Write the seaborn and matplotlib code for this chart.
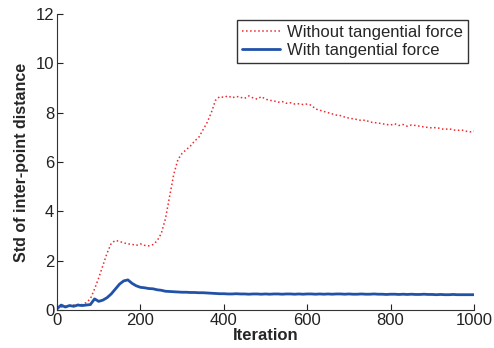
import numpy as np
import pandas as pd
import matplotlib
matplotlib.use("Agg")
import matplotlib.pyplot as plt
import seaborn as sns

# iterations sampled every 10 steps
iterations = list(range(0, 1001, 10))

# Std of inter-point distance
without_tangential = [
    0.10, 0.12, 0.15, 0.18, 0.20, 0.22, 0.22, 0.30, 0.45, 0.85,
    1.30, 1.80, 2.30, 2.70, 2.82, 2.78, 2.72, 2.68, 2.66, 2.62,
    2.68, 2.62, 2.60, 2.65, 2.80, 3.10, 3.70, 4.60, 5.50, 6.10,
    6.35, 6.50, 6.65, 6.85, 7.00, 7.30, 7.60, 8.00, 8.50, 8.65,
    8.62, 8.68, 8.60, 8.66, 8.62, 8.58, 8.68, 8.60, 8.55, 8.65,
    8.55, 8.50, 8.48, 8.42, 8.45, 8.38, 8.40, 8.35, 8.36, 8.33,
    8.35, 8.30, 8.15, 8.10, 8.05, 8.00, 7.95, 7.90, 7.88, 7.82,
    7.78, 7.75, 7.72, 7.68, 7.70, 7.62, 7.60, 7.58, 7.55, 7.52,
    7.50, 7.55, 7.48, 7.52, 7.45, 7.50, 7.48, 7.45, 7.42, 7.40,
    7.38, 7.40, 7.35, 7.32, 7.35, 7.30, 7.28, 7.30, 7.25, 7.22,
    7.25,
]
with_tangential = [
    0.05, 0.20, 0.12, 0.18, 0.15, 0.20, 0.18, 0.20, 0.22, 0.45,
    0.35, 0.40, 0.50, 0.65, 0.85, 1.05, 1.18, 1.22, 1.08, 0.98,
    0.92, 0.90, 0.87, 0.86, 0.82, 0.80, 0.76, 0.75, 0.74, 0.73,
    0.72, 0.72, 0.71, 0.71, 0.70, 0.70, 0.69, 0.68, 0.67, 0.66,
    0.66, 0.65, 0.65, 0.66, 0.65, 0.65, 0.64, 0.65, 0.65, 0.64,
    0.65, 0.64, 0.65, 0.65, 0.64, 0.65, 0.65, 0.64, 0.65, 0.64,
    0.65, 0.65, 0.64, 0.65, 0.64, 0.65, 0.64, 0.65, 0.65, 0.64,
    0.65, 0.64, 0.64, 0.65, 0.64, 0.64, 0.65, 0.64, 0.64, 0.63,
    0.64, 0.64, 0.63, 0.64, 0.63, 0.64, 0.63, 0.63, 0.64, 0.63,
    0.63, 0.62, 0.63, 0.62, 0.62, 0.63, 0.62, 0.62, 0.62, 0.62,
    0.62,
]

labels = ["Without tangential force", "With tangential force"]
x_ticks = [0, 200, 400, 600, 800, 1000]
y_ticks = [0, 2, 4, 6, 8, 10, 12]

sns.set_style("ticks")
plt.rcParams["font.family"] = ["Liberation Sans", "DejaVu Sans"]
plt.rcParams["xtick.direction"] = "in"
plt.rcParams["ytick.direction"] = "in"

df = pd.DataFrame({
    "Iteration": iterations * 2,
    "Std": without_tangential + with_tangential,
    "Case": [labels[0]] * len(iterations) + [labels[1]] * len(iterations),
})

fig = plt.figure(figsize=(4.94, 3.48), dpi=100)
ax = fig.add_axes([0.1154, 0.1092, 0.8441, 0.8506])

sns.lineplot(data=df[df["Case"] == labels[0]], x="Iteration", y="Std",
             color="#f0282d", linestyle=":", linewidth=1.1, ax=ax,
             label=labels[0], estimator=None)
sns.lineplot(data=df[df["Case"] == labels[1]], x="Iteration", y="Std",
             color="#2152a8", linewidth=2.0, ax=ax,
             label=labels[1], estimator=None)

ax.set_xlim(0, 1000)
ax.set_ylim(0, 12)
ax.set_xticks(x_ticks)
ax.set_yticks(y_ticks)
ax.tick_params(labelsize=12, length=4, width=0.8, colors="#222222", pad=2)
ax.set_xlabel("Iteration", fontsize=12, fontweight="bold", labelpad=0)
ax.set_ylabel("Std of inter-point distance", fontsize=11.5, fontweight="bold", labelpad=5)
sns.despine(ax=ax)
for s in ["left", "bottom"]:
    ax.spines[s].set_color("#333333")
    ax.spines[s].set_linewidth(0.8)

leg = ax.legend(loc="upper right", fontsize=12, frameon=True, fancybox=False,
                handlelength=2.3, borderpad=0.3, labelspacing=0.2,
                handletextpad=0.4, borderaxespad=0.36)
leg.get_frame().set_edgecolor("black")
leg.get_frame().set_linewidth(1.0)

fig.savefig("out.png", dpi=100)
